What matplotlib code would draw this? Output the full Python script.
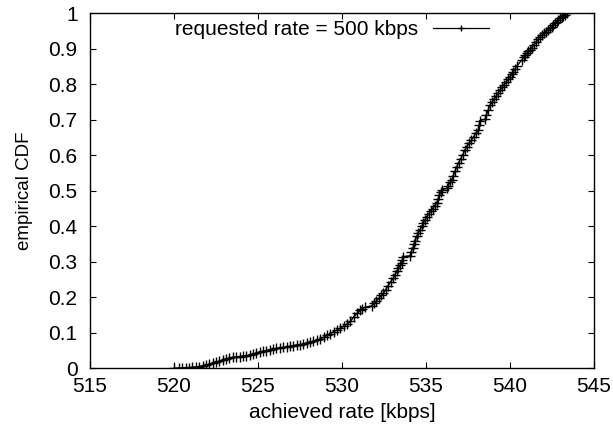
import matplotlib
matplotlib.use("Agg")
import matplotlib.pyplot as plt

# achieved rate [kbps] (sorted) and empirical CDF
rate = [520.0, 520.3, 520.5, 520.7, 520.9, 521.1, 521.3, 521.5, 521.7, 521.9,
        522.1, 522.3, 522.5, 522.7, 522.9, 523.1, 523.3, 523.5, 523.7, 523.9,
        524.1, 524.3, 524.5, 524.7, 524.9, 525.1, 525.3, 525.5, 525.7, 525.9,
        526.1, 526.3, 526.5, 526.7, 526.9, 527.1, 527.3, 527.5, 527.7, 527.9,
        528.1, 528.3, 528.5, 528.7, 528.9, 529.1, 529.3, 529.5, 529.7, 529.9,
        530.1, 530.3, 530.5, 530.7, 530.9, 531.1, 531.2, 531.37, 531.77, 531.9,
        532.05, 532.2, 532.35, 532.46, 532.6, 532.75, 532.9, 533.05, 533.15, 533.25,
        533.35, 533.45, 533.55, 533.6, 533.65, 534.05, 534.12, 534.2, 534.28, 534.36,
        534.45, 534.55, 534.65, 534.75, 534.85, 534.95, 535.04, 535.15, 535.27, 535.39,
        535.51, 535.63, 535.72, 535.8, 535.88, 535.93, 536.23, 536.33, 536.43, 536.53,
        536.63, 536.73, 536.83, 536.95, 537.07, 537.19, 537.31, 537.42, 537.56, 537.7,
        537.84, 537.98, 538.12, 538.16, 538.21, 538.51, 538.6, 538.7, 538.81, 538.93,
        539.05, 539.17, 539.29, 539.4, 539.52, 539.64, 539.76, 539.88, 540.0, 540.1,
        540.2, 540.3, 540.4, 540.72, 540.82, 540.92, 541.02, 541.1, 541.19, 541.3,
        541.42, 541.55, 541.67, 541.79, 541.9, 542.02, 542.14, 542.26, 542.38, 542.48,
        542.58, 542.68, 542.78, 542.88, 542.98, 543.08, 543.18, 543.28, 543.38]
cdf = [0.0, 0.001, 0.001, 0.002, 0.002, 0.003, 0.004, 0.005, 0.007, 0.009,
       0.011, 0.014, 0.017, 0.020, 0.023, 0.026, 0.029, 0.031, 0.032, 0.033,
       0.035, 0.036, 0.037, 0.040, 0.043, 0.046, 0.048, 0.050, 0.052, 0.054,
       0.056, 0.058, 0.059, 0.061, 0.062, 0.064, 0.066, 0.067, 0.069, 0.071,
       0.073, 0.076, 0.079, 0.083, 0.087, 0.093, 0.098, 0.103, 0.108, 0.113,
       0.119, 0.125, 0.132, 0.145, 0.155, 0.163, 0.168, 0.172, 0.176, 0.183,
       0.190, 0.198, 0.206, 0.211, 0.222, 0.233, 0.244, 0.254, 0.263, 0.273,
       0.282, 0.290, 0.296, 0.305, 0.315, 0.317, 0.327, 0.338, 0.349, 0.360,
       0.372, 0.382, 0.391, 0.400, 0.410, 0.419, 0.427, 0.434, 0.442, 0.450,
       0.458, 0.465, 0.477, 0.488, 0.497, 0.503, 0.507, 0.515, 0.524, 0.531,
       0.543, 0.556, 0.568, 0.580, 0.591, 0.602, 0.614, 0.625, 0.634, 0.643,
       0.653, 0.663, 0.672, 0.685, 0.698, 0.702, 0.715, 0.728, 0.742, 0.750,
       0.759, 0.767, 0.776, 0.784, 0.792, 0.799, 0.807, 0.814, 0.822, 0.829,
       0.836, 0.843, 0.852, 0.870, 0.877, 0.884, 0.889, 0.893, 0.897, 0.904,
       0.912, 0.920, 0.928, 0.935, 0.939, 0.944, 0.949, 0.953, 0.958, 0.963,
       0.968, 0.973, 0.977, 0.982, 0.986, 0.990, 0.994, 0.997, 1.0]

xticks = [515, 520, 525, 530, 535, 540, 545]
yticks = [0, 0.1, 0.2, 0.3, 0.4, 0.5, 0.6, 0.7, 0.8, 0.9, 1]
ytick_labels = ["0", "0.1", "0.2", "0.3", "0.4", "0.5", "0.6", "0.7", "0.8", "0.9", "1"]
series_label = "requested rate = 500 kbps"

plt.rcParams['font.family'] = ['Liberation Sans', 'DejaVu Sans']
plt.rcParams['font.size'] = 15

fig = plt.figure(figsize=(6.13, 4.36), dpi=100)
ax = fig.add_axes([90/613, 1-368.3/436, (594-90)/613, (368.3-13.5)/436])

ax.plot(rate, cdf, color='black', lw=1.0, marker='+', markersize=6.5,
        markeredgewidth=1.0, label=series_label)

ax.set_xlim(515, 545)
ax.set_ylim(0, 1)
ax.set_xticks(xticks)
ax.set_yticks(yticks)
ax.set_yticklabels(ytick_labels)
ax.tick_params(direction='in', length=4, width=0.8, top=True, right=True,
               labelsize=15)
ax.tick_params(axis='y', pad=9)
ax.tick_params(axis='x', pad=6)
for s in ax.spines.values():
    s.set_linewidth(1.0)

ax.set_xlabel("achieved rate [kbps]", fontsize=15, labelpad=5)
ax.set_ylabel("empirical CDF", fontsize=13.5, labelpad=11)

leg = ax.legend(loc='center', bbox_to_anchor=(0.48, 0.955), frameon=False,
                markerfirst=False, numpoints=1, handlelength=2.7,
                handletextpad=0.7, borderpad=0, borderaxespad=0)
for h in leg.legend_handles:
    h.set_markersize(4)
    h.set_linewidth(0.9)

fig.savefig("out.png", dpi=100)
